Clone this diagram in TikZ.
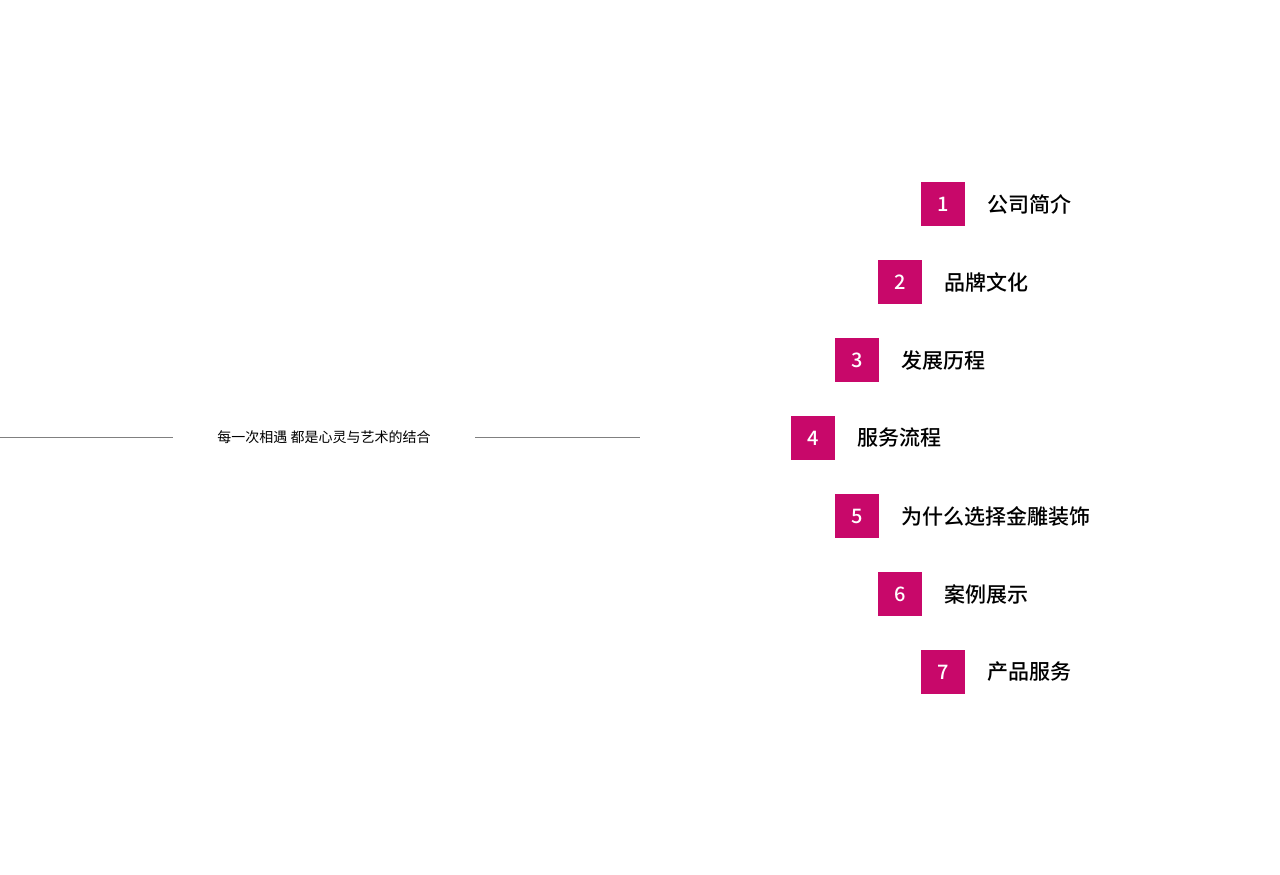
\documentclass[tikz,border=0pt]{standalone}
\usepackage{fontspec}
\newfontfamily\cjk{Noto Sans CJK SC}
\newfontfamily\cjkb{Noto Sans CJK SC Medium}
\usetikzlibrary{positioning}
\definecolor{rosered}{HTML}{C8086A}
\tikzset{
  numbox/.style={fill=rosered, minimum size=44pt, inner sep=0pt, text=white, font=\cjkb\fontsize{20}{20}\selectfont},
  itemtext/.style={anchor=west, inner sep=0pt, font=\cjkb\fontsize{21}{21}\selectfont},
}
\begin{document}
\begin{tikzpicture}[x=1pt,y=-1pt]
\useasboundingbox (0,0) rectangle (1280,875);
\draw[gray, line width=0.8pt] (0,437)--(173,437);
\draw[gray, line width=0.8pt] (475,437)--(640,437);
\node[font=\cjk\fontsize{14}{14}\selectfont] (tagline) at (324,437) {每一次相遇 都是心灵与艺术的结合};
\foreach \n/\cx/\cy/\t in {1/943/204/公司简介, 2/900/282/品牌文化, 3/857/360/发展历程, 4/813/438/服务流程, 5/857/516/为什么选择金雕装饰, 6/900/594/案例展示, 7/943/672/产品服务}
{
  \node[numbox] (box\n) at (\cx,\cy) {\n};
  \node[itemtext, right=22pt of box\n] (item\n) {\t};
}
\end{tikzpicture}
\end{document}
